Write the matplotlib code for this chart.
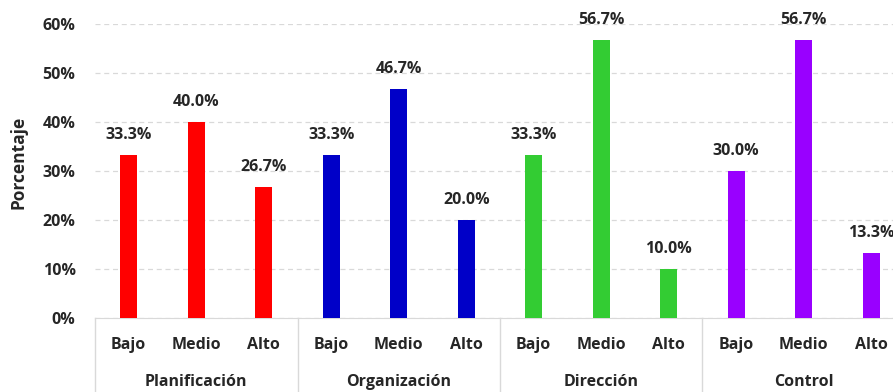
import matplotlib
matplotlib.use("Agg")
import matplotlib.pyplot as plt
from matplotlib.transforms import blended_transform_factory

groups = ["Planificación", "Organización", "Dirección", "Control"]
levels = ["Bajo", "Medio", "Alto"]
values = [
    [33.3, 40.0, 26.7],
    [33.3, 46.7, 20.0],
    [33.3, 56.7, 10.0],
    [30.0, 56.7, 13.3],
]
colors = ["#FF0000", "#0000C8", "#33CC33", "#9900FF"]
yticks = [0, 10, 20, 30, 40, 50, 60]

plt.rcParams['font.family'] = ['Open Sans', 'DejaVu Sans']
W, H = 893, 392
fig = plt.figure(figsize=(W / 100, H / 100), dpi=100)
ax = fig.add_axes([95 / W, (H - 318) / H, 810 / W, (318 - 24) / H])

txt_col = "#262626"
fs = 11.5
for g, (vals, col) in enumerate(zip(values, colors)):
    xs = [g * 3 + i for i in range(3)]
    ax.bar(xs, vals, width=0.25, color=col, zorder=3)
    for x, v in zip(xs, vals):
        ax.annotate(f"{v:.1f}%", (x, v), xytext=(0, 8.5), textcoords="offset points",
                    ha="center", va="bottom", fontsize=fs, fontweight="bold", color=txt_col)

ax.set_xlim(-0.5, 11.5)
ax.set_ylim(0, 60)
ax.set_yticks(yticks)
ax.set_yticklabels([f"{t}%" for t in yticks], fontsize=fs, fontweight="bold", color=txt_col)
ax.yaxis.grid(True, linestyle=(0, (4, 3)), color="#d9d9d9", linewidth=0.9, zorder=0)
ax.tick_params(axis="y", length=0, pad=14)
ax.tick_params(axis="x", length=0)
ax.set_xticks([])
for s in ["left", "right", "top"]:
    ax.spines[s].set_visible(False)
ax.spines["bottom"].set_color("#d9d9d9")
ax.set_ylabel("Porcentaje", fontsize=12.5, fontweight="bold", color=txt_col)
ax.yaxis.set_label_coords(-(95 - 27) / 810, 0.53)

trans = blended_transform_factory(ax.transData, ax.transAxes)
ybot = -(H - 318) / (318 - 24)
for b in [-0.5, 2.5, 5.5, 8.5, 11.5]:
    ax.plot([b, b], [0, ybot], transform=trans, color="#d9d9d9", lw=1, clip_on=False)

y_lvl = -27 / (318 - 24)
y_grp = -64 / (318 - 24)
for g, name in enumerate(groups):
    for i, lv in enumerate(levels):
        ax.text(g * 3 + i, y_lvl, lv, transform=trans, ha="center", va="center",
                fontsize=fs, fontweight="bold", color=txt_col)
    ax.text(g * 3 + 1, y_grp, name, transform=trans, ha="center", va="center",
            fontsize=fs, fontweight="bold", color=txt_col)

fig.savefig("out.png", dpi=100)
